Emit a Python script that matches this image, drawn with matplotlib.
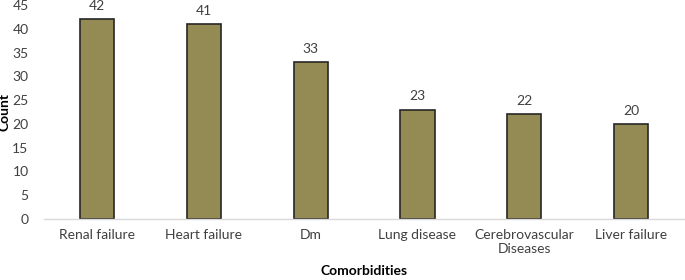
import matplotlib
matplotlib.use("Agg")
import matplotlib.pyplot as plt

categories = ["Renal failure", "Heart failure", "Dm", "Lung disease", "Cerebrovascular\nDiseases", "Liver failure"]
counts = [42, 41, 33, 23, 22, 20]
yticks = [0, 5, 10, 15, 20, 25, 30, 35, 40, 45]

plt.rcParams['font.family'] = ['Lato', 'DejaVu Sans']

fig = plt.figure(figsize=(6.85, 2.8), dpi=100)
ax = fig.add_axes([0.064, 0.218, 0.935, 0.764])
x = list(range(len(categories)))
bars = ax.bar(x, counts, width=0.32, color="#948A54", edgecolor="#262626", linewidth=1.2)
for xi, v in zip(x, counts):
    ax.text(xi, v + 1.5, str(v), ha="center", va="bottom", fontsize=10, color="#404040")

ax.set_xlim(-0.5, len(categories) - 0.5)
ax.set_ylim(0, 45)
ax.set_yticks(yticks)
ax.set_xticks(x)
ax.set_xticklabels(categories, fontsize=10, color="#404040", linespacing=1.25)
ax.tick_params(axis="y", labelsize=10, colors="#404040", length=0, pad=11)
ax.tick_params(axis="x", length=0, pad=7)
for s in ["top", "right", "left"]:
    ax.spines[s].set_visible(False)
ax.spines["bottom"].set_color("#d9d9d9")
ax.spines["bottom"].set_linewidth(1)
ax.set_ylabel("Count", fontsize=10, fontweight="bold")
ax.yaxis.set_label_coords(-0.052, 0.5)
ax.set_xlabel("Comorbidities", fontsize=10, fontweight="bold")
ax.xaxis.set_label_coords(0.5, -0.215)
fig.savefig("out.png", dpi=100)
